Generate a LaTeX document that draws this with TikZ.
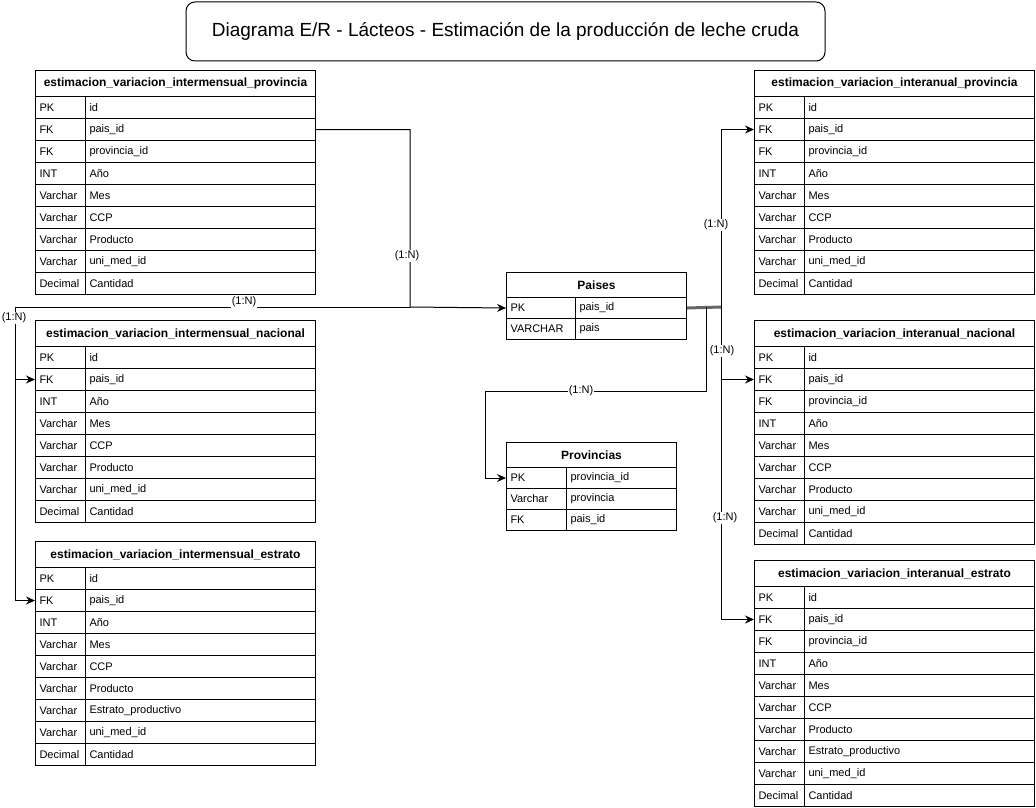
\documentclass[tikz,border=0pt]{standalone}
\usepackage{fontspec}
\setmainfont{Liberation Sans}
\usetikzlibrary{arrows.meta}
\tikzset{
    every picture/.append style={x=1pt, y=-1pt, line width=1pt},
    head/.style={draw, anchor=north west, minimum height=26pt, inner sep=0pt,
        font=\bfseries\fontsize{12}{14}\selectfont},
    tcell/.style={draw, anchor=north west, minimum height=22pt, text width=42pt,
        inner xsep=4pt, inner ysep=0pt, align=left, font=\fontsize{11}{13}\selectfont},
    ncell/.style={tcell, text width=222pt},
    rel/.style={-{Stealth[length=9pt, width=8pt, inset=3pt]}},
    lbl/.style={fill=white, inner sep=1pt, font=\fontsize{11}{13}\selectfont}
}

\begin{document}
\begin{tikzpicture}
  \useasboundingbox (0,0) rectangle (1036,808);

  \node (title) [draw, rounded corners=9pt, minimum width=639pt, minimum height=59pt,
    font=\fontsize{19}{23}\selectfont] at (505.5,31.5)
    {Diagrama E/R - Lácteos - Estimación de la producción de leche cruda};

  % tablas de la izquierda
  \node (ip) [head, minimum width=280pt] at (35,70) {estimacion\_variacion\_intermensual\_provincia};
  \foreach [count=\i] \ty/\nm in {PK/id, FK/pais\_id, FK/provincia\_id, INT/Año, Varchar/Mes,
      Varchar/CCP, Varchar/Producto, Varchar/uni\_med\_id, Decimal/Cantidad} {
    \node (ip-t\i) [tcell] at (35,74+22*\i) {\ty};
    \node (ip-n\i) [ncell] at (85,74+22*\i) {\nm};
  }
  \node (in) [head, minimum width=280pt] at (35,320) {estimacion\_variacion\_intermensual\_nacional};
  \foreach [count=\i] \ty/\nm in {PK/id, FK/pais\_id, INT/Año, Varchar/Mes,
      Varchar/CCP, Varchar/Producto, Varchar/uni\_med\_id, Decimal/Cantidad} {
    \node (in-t\i) [tcell] at (35,324+22*\i) {\ty};
    \node (in-n\i) [ncell] at (85,324+22*\i) {\nm};
  }
  \node (ie) [head, minimum width=280pt] at (35,541) {estimacion\_variacion\_intermensual\_estrato};
  \foreach [count=\i] \ty/\nm in {PK/id, FK/pais\_id, INT/Año, Varchar/Mes, Varchar/CCP,
      Varchar/Producto, Varchar/Estrato\_productivo, Varchar/uni\_med\_id, Decimal/Cantidad} {
    \node (ie-t\i) [tcell] at (35,545+22*\i) {\ty};
    \node (ie-n\i) [ncell] at (85,545+22*\i) {\nm};
  }

  % tablas de la derecha
  \node (ap) [head, minimum width=280pt] at (754,70) {estimacion\_variacion\_interanual\_provincia};
  \foreach [count=\i] \ty/\nm in {PK/id, FK/pais\_id, FK/provincia\_id, INT/Año, Varchar/Mes,
      Varchar/CCP, Varchar/Producto, Varchar/uni\_med\_id, Decimal/Cantidad} {
    \node (ap-t\i) [tcell] at (754,74+22*\i) {\ty};
    \node (ap-n\i) [ncell] at (804,74+22*\i) {\nm};
  }
  \node (an) [head, minimum width=280pt] at (754,320) {estimacion\_variacion\_interanual\_nacional};
  \foreach [count=\i] \ty/\nm in {PK/id, FK/pais\_id, FK/provincia\_id, INT/Año, Varchar/Mes,
      Varchar/CCP, Varchar/Producto, Varchar/uni\_med\_id, Decimal/Cantidad} {
    \node (an-t\i) [tcell] at (754,324+22*\i) {\ty};
    \node (an-n\i) [ncell] at (804,324+22*\i) {\nm};
  }
  \node (ae) [head, minimum width=280pt] at (754,560) {estimacion\_variacion\_interanual\_estrato};
  \foreach [count=\i] \ty/\nm in {PK/id, FK/pais\_id, FK/provincia\_id, INT/Año, Varchar/Mes,
      Varchar/CCP, Varchar/Producto, Varchar/Estrato\_productivo, Varchar/uni\_med\_id,
      Decimal/Cantidad} {
    \node (ae-t\i) [tcell] at (754,564+22*\i) {\ty};
    \node (ae-n\i) [ncell] at (804,564+22*\i) {\nm};
  }

  % paises y provincias
  \node (pa) [head, minimum width=180pt, minimum height=25pt] at (506,272) {Paises};
  \foreach [count=\i] \ty/\nm in {PK/pais\_id, VARCHAR/pais} {
    \node (pa-t\i) [tcell, text width=61pt, minimum height=21pt] at (506,276+21*\i) {\ty};
    \node (pa-n\i) [tcell, text width=103pt, minimum height=21pt] at (575,276+21*\i) {\nm};
  }
  \node (pv) [head, minimum width=170pt, minimum height=25pt] at (506,442) {Provincias};
  \foreach [count=\i] \ty/\nm in {PK/provincia\_id, Varchar/provincia, FK/pais\_id} {
    \node (pv-t\i) [tcell, text width=52pt, minimum height=21pt] at (506,446+21*\i) {\ty};
    \node (pv-n\i) [tcell, text width=102pt, minimum height=21pt] at (566,446+21*\i) {\nm};
  }

  \coordinate (jl) at (410,307);
  \coordinate (cl) at (15,307);
  \coordinate (cr) at (721,307);
  \coordinate (cp) at (706,307);
  \coordinate (cq) at (485,391);

  \draw [line width=3pt, black!60] (pa-n1.east) -- (cr);
  \draw [rel] (ip-n2.east) -| (jl) -- (pa-t1.west);
  \draw [rel] (jl) -- (cl) |- (in-t2.west);
  \draw [rel] (cl) |- (ie-t2.west);
  \draw [rel] (cr) |- (ap-t2.west);
  \draw [rel] (cr) |- (an-t2.west);
  \draw [rel] (cr) |- (ae-t2.west);
  \draw [rel] (cp) |- (cq) |- (pv-t1.west);

  \node (l1) [lbl] at (407,256) {(1:N)};
  \node (l2) [lbl] at (244,302) {(1:N)};
  \node (l3) [lbl] at (14,318) {(1:N)};
  \node (l4) [lbl] at (716,225) {(1:N)};
  \node (l5) [lbl] at (722,351) {(1:N)};
  \node (l6) [lbl] at (725,518) {(1:N)};
  \node (l7) [lbl] at (581,391) {(1:N)};
\end{tikzpicture}
\end{document}
